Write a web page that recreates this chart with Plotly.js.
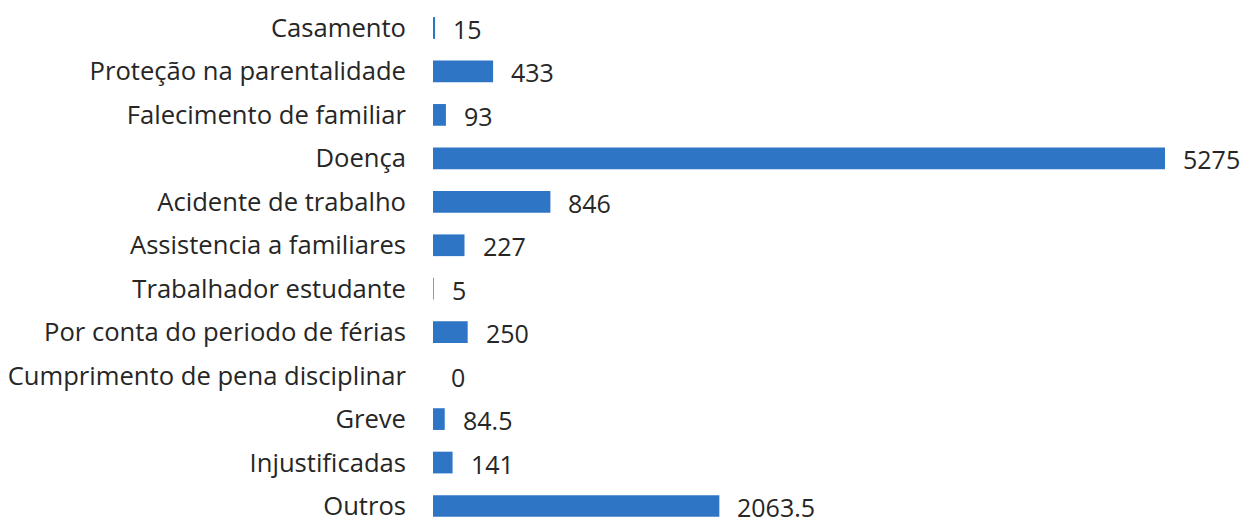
<!DOCTYPE html>
<html>
<head>
<meta charset="utf-8">
<script src="https://cdn.plot.ly/plotly-3.0.1.min.js"></script>
<style>html,body{margin:0;padding:0;background:#fff;}#chart{width:1248px;height:518px;}</style>
</head>
<body>
<div id="chart"></div>
<script>
const categories = [
  "Casamento",
  "Proteção na parentalidade",
  "Falecimento de familiar",
  "Doença",
  "Acidente de trabalho",
  "Assistencia a familiares",
  "Trabalhador estudante",
  "Por conta do periodo de férias",
  "Cumprimento de pena disciplinar",
  "Greve",
  "Injustificadas",
  "Outros"
];
const values = [15, 433, 93, 5275, 846, 227, 5, 250, 0, 84.5, 141, 2063.5];
const valueLabels = ["15", "433", "93", "5275", "846", "227", "5", "250", "0", "84.5", "141", "2063.5"];

const FONT = "'Open Sans', sans-serif";
const TXT = "#262626";

const trace = {
  type: "bar",
  orientation: "h",
  x: values,
  y: categories,
  width: 0.5,
  marker: {color: "#2E75C6", line: {width: 0}},
  hoverinfo: "x+y"
};

const annotations = categories.map((c, i) => ({
  x: values[i], y: c, xref: "x", yref: "y",
  text: valueLabels[i], showarrow: false,
  xanchor: "left", yanchor: "middle", xshift: 16, yshift: -1,
  font: {family: FONT, size: 25, color: TXT}
}));

const layout = {
  width: 1248, height: 518,
  margin: {l: 433, r: 83, t: 0, b: 0, pad: 0},
  paper_bgcolor: "#ffffff",
  plot_bgcolor: "#ffffff",
  showlegend: false,
  xaxis: {
    range: [0, 5275], visible: false, showgrid: false, zeroline: false, fixedrange: true
  },
  yaxis: {
    type: "category",
    categoryorder: "array", categoryarray: categories,
    range: [11.276, -0.644],
    showgrid: false, zeroline: false, showline: false,
    ticks: "", ticklabelstandoff: 26,
    tickfont: {family: FONT, size: 25.6, color: TXT},
    fixedrange: true
  },
  annotations: annotations
};

Plotly.newPlot("chart", [trace], layout, {displayModeBar: false, staticPlot: true});
</script>
</body>
</html>
